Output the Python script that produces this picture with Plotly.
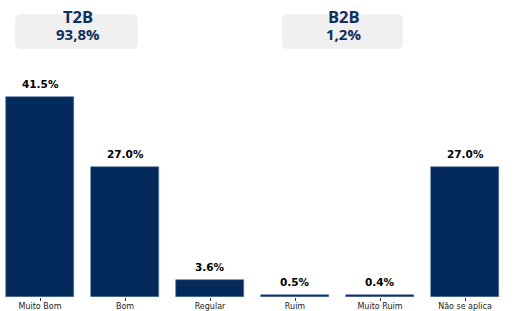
import plotly.graph_objects as go

categories = ["Muito Bom", "Bom", "Regular", "Ruim", "Muito Ruim", "Não se aplica"]
values = [41.5, 27.0, 3.6, 0.5, 0.4, 27.0]
value_labels = ["41.5%", "27.0%", "3.6%", "0.5%", "0.4%", "27.0%"]
summary_titles = ["T2B", "B2B"]
summary_values = ["93,8%", "1,2%"]

W, H = 525, 311
PLOT_H = 297
BAR_COLOR = "#032a5a"
TEXT_NAVY = "#0f2f5d"

fig = go.Figure()
fig.add_trace(go.Bar(
    x=list(range(len(categories))), y=values, width=0.8,
    marker=dict(color=BAR_COLOR, line=dict(color="#4d6f99", width=0.6)),
    hoverinfo="skip",
))

for i, (v, lab) in enumerate(zip(values, value_labels)):
    fig.add_annotation(x=i, y=v, text=f"<b>{lab}</b>", showarrow=False,
                       xanchor="center", yanchor="bottom", yshift=5,
                       font=dict(family="DejaVu Sans", size=10.5, color="black"))

def px2x(px):
    return px / W

def py2y(py):
    return (PLOT_H - py) / PLOT_H

def rounded_path(x0, y0, x1, y1, r):
    rx, ry = r / W, r / PLOT_H
    X0, X1 = px2x(x0), px2x(x1)
    Ytop, Ybot = py2y(y0), py2y(y1)
    return (f"M {X0+rx} {Ytop} L {X1-rx} {Ytop} Q {X1} {Ytop} {X1} {Ytop-ry} "
            f"L {X1} {Ybot+ry} Q {X1} {Ybot} {X1-rx} {Ybot} "
            f"L {X0+rx} {Ybot} Q {X0} {Ybot} {X0} {Ybot+ry} "
            f"L {X0} {Ytop-ry} Q {X0} {Ytop} {X0+rx} {Ytop} Z")

boxes = [(15, 14, 138, 49), (282, 14, 403, 49)]
for (x0, y0, x1, y1), t, v in zip(boxes, summary_titles, summary_values):
    fig.add_shape(type="path", xref="paper", yref="paper",
                  path=rounded_path(x0, y0, x1, y1, 6),
                  fillcolor="#f0f0f0", line=dict(width=0), layer="below")
    cx = (x0 + x1) / 2 + 1
    fig.add_annotation(xref="paper", yref="paper", x=px2x(cx), y=py2y(17),
                       text=f"<b>{t}</b>", showarrow=False,
                       xanchor="center", yanchor="middle",
                       font=dict(family="Open Sans", size=16.5, color=TEXT_NAVY))
    fig.add_annotation(xref="paper", yref="paper", x=px2x(cx), y=py2y(34.5),
                       text=f"<b>{v}</b>", showarrow=False,
                       xanchor="center", yanchor="middle",
                       font=dict(family="Open Sans", size=15, color=TEXT_NAVY))

fig.update_layout(
    width=W, height=H,
    margin=dict(l=0, r=0, t=0, b=H - PLOT_H, autoexpand=False),
    paper_bgcolor="white", plot_bgcolor="white",
    showlegend=False, bargap=0,
    xaxis=dict(range=[-40 / 85, 485 / 85], tickmode="array",
               tickvals=list(range(len(categories))), ticktext=categories,
               ticks="outside", ticklen=3, tickwidth=0.8, tickcolor="#333333",
               ticklabelstandoff=-2,
               tickfont=dict(family="DejaVu Sans", size=8, color="#222222"),
               showgrid=False, zeroline=False, showline=False, automargin=False),
    yaxis=dict(range=[0, PLOT_H / 4.82], visible=False, showgrid=False,
               zeroline=False, automargin=False),
)

fig.write_html("out.html", config={"displayModeBar": False},
               post_script="document.body.style.margin='0';document.body.style.padding='0';")
